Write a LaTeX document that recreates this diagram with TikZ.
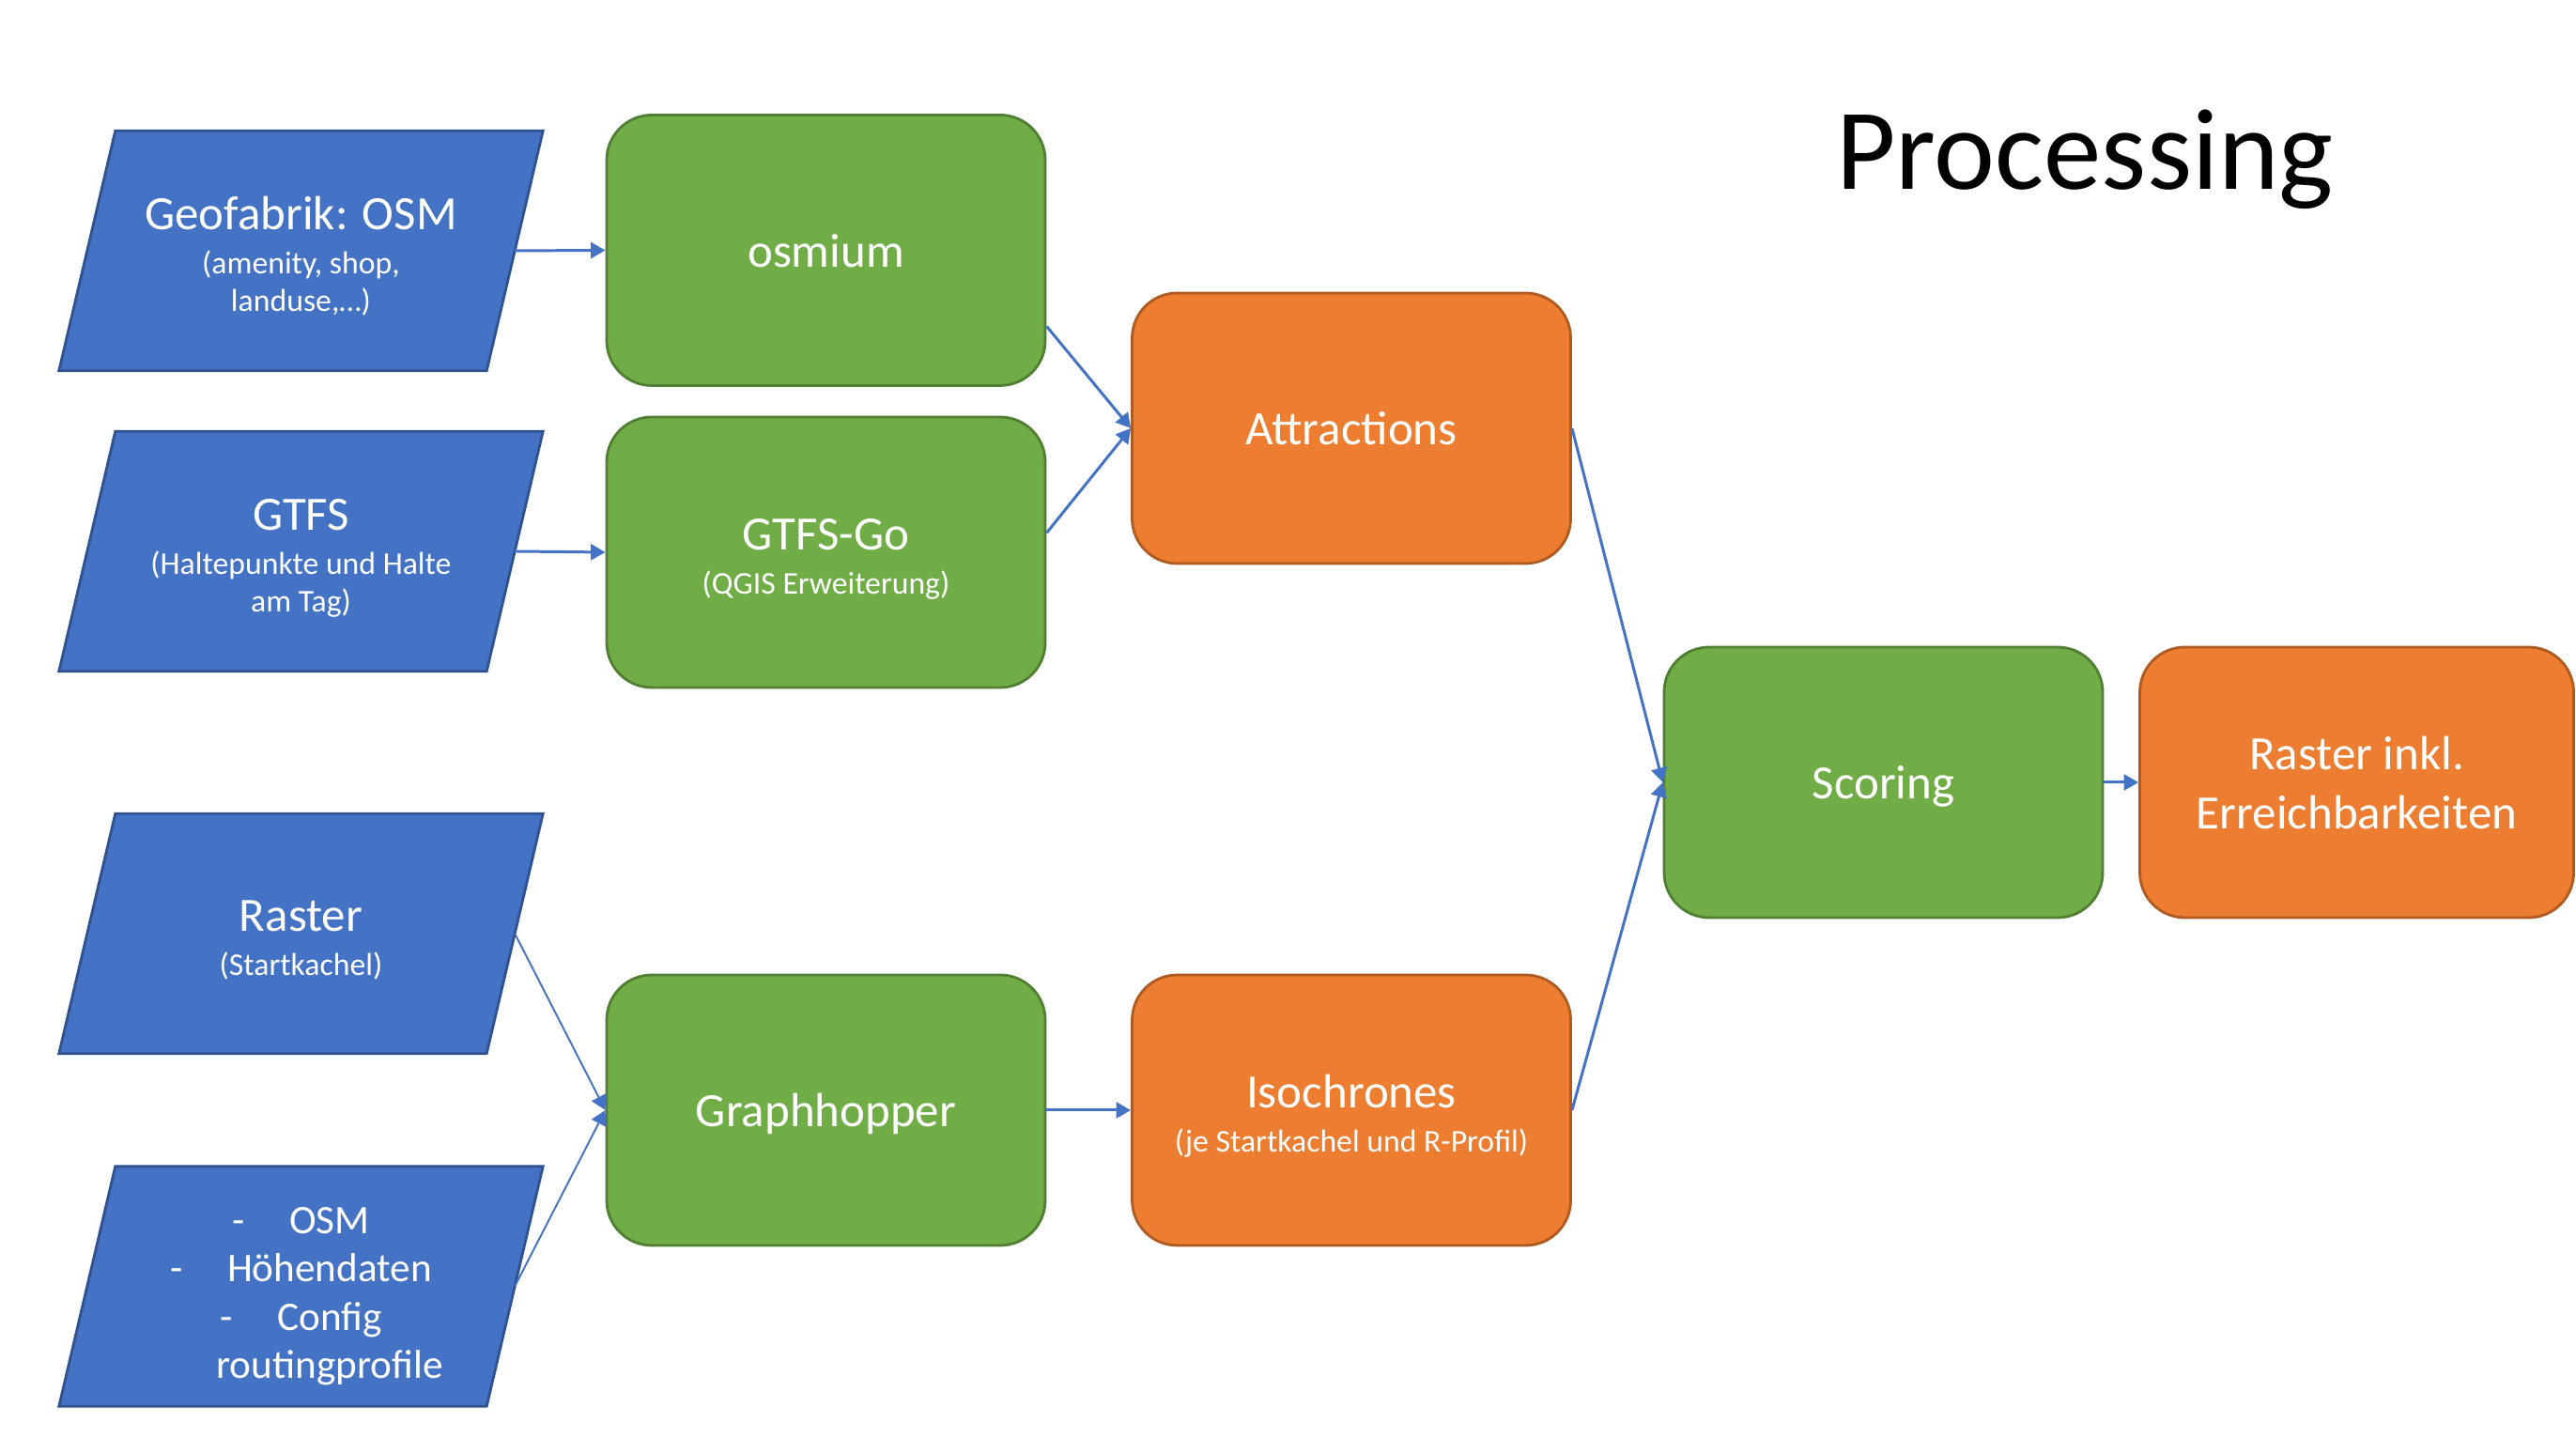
\documentclass[tikz,border=0pt]{standalone}
\usepackage{fontspec}
\setmainfont{Carlito}
\usetikzlibrary{shapes,arrows.meta,positioning,calc,backgrounds}

\definecolor{inblue}{HTML}{4472C4}
\definecolor{inbluedraw}{HTML}{2F528F}
\definecolor{procgreen}{HTML}{70AD47}
\definecolor{procgreendraw}{HTML}{507E32}
\definecolor{outorange}{HTML}{ED7D31}
\definecolor{outorangedraw}{HTML}{AE5A21}

\newcommand{\subtxt}[1]{{\fontsize{9.6}{11.5}\selectfont #1}}
\newcommand{\listtxt}[1]{{\fontsize{12.3}{11.5}\selectfont #1}}
\newcommand{\firststrut}{\rule{0pt}{15pt}}

\begin{document}
\begin{tikzpicture}[
    boxtext/.style={text=white, align=center, font=\fontsize{14.5}{11.5}\selectfont,
                    execute at begin node={\rule{0pt}{13.2pt}},
                    execute at end node={\rule[-3pt]{0pt}{3pt}}},
    datain/.style={rectangle, boxtext, minimum width=4.54cm, minimum height=2.54cm},
    datashape/.style={draw=inbluedraw, fill=inblue, line width=0.8pt},
    proc/.style={rectangle, boxtext, rounded corners=0.48cm, draw=procgreendraw, fill=procgreen,
                 line width=0.8pt, minimum width=4.67cm, minimum height=2.88cm},
    result/.style={proc, draw=outorangedraw, fill=outorange},
    arrow/.style={-{Triangle[length=4.4pt,width=4.8pt]}, draw=inblue, line width=0.85pt},
    thinarrow/.style={arrow, line width=0.55pt},
    title/.style={font=\fontsize{35}{42}\selectfont}
]
\useasboundingbox (0,0) rectangle (27.43,15.31);

% Title
\node[title, anchor=base] (title) at (22.2, 13.29) {Processing};

% Input data
\node[datain] (geo) at (3.205, 12.64) {\firststrut Geofabrik: OSM\\[2pt]\subtxt{(amenity, shop,}\\\subtxt{landuse,…)}};
\node[datain] (gtfs) at (3.205, 9.44) {\firststrut GTFS\\[2pt]\subtxt{(Haltepunkte und Halte}\\\subtxt{am Tag)}};
\node[datain] (raster) at (3.205, 5.37) {\firststrut Raster\\[2pt]\subtxt{(Startkachel)}};
\node[datain] (osmlist) at (3.205, 1.615) {%
    \firststrut\listtxt{-\hspace{13.6pt}OSM}\\[3.1pt]
    \listtxt{-\hspace{13.6pt}Höhendaten}\\[3.1pt]
    \listtxt{-\hspace{13.6pt}Config}\\[3.1pt]
    \listtxt{\hspace*{17.4pt}routingprofile}};

% slanted input shapes behind the texts
\begin{scope}[on background layer]
\foreach \n in {geo,gtfs,raster,osmlist}
    \draw[datashape] ($(\n.north west)+(0.3,0)$) -- ($(\n.north east)+(0.3,0)$)
        -- ($(\n.south east)-(0.3,0)$) -- ($(\n.south west)-(0.3,0)$) -- cycle;
\end{scope}

% Tools
\node[proc] (osmium) at (8.795, 12.645) {osmium};
\node[proc] (gtfsgo) at (8.795, 9.43) {\firststrut GTFS-Go\\[2pt]\subtxt{(QGIS Erweiterung)}};
\node[proc] (graphhopper) at (8.795, 3.49) {Graphhopper};

% Intermediate results
\node[result] (attractions) at (14.39, 10.75) {Attractions};
\node[result] (isochrones) at (14.39, 3.49) {\firststrut Isochrones\\[2pt]\subtxt{(je Startkachel und R-Profil)}};

% Scoring and output
\node[proc] (scoring) at (20.055, 6.98) {Scoring};
\node[result, minimum width=4.62cm] (output) at (25.095, 6.98)
    {\rule{0pt}{13.2pt}Raster inkl.\\[6.4pt]Erreichbarkeiten};

% Connectors
\draw[arrow] (geo.east) -- (osmium.west);
\draw[arrow] (gtfs.east) -- (gtfsgo.west);
\draw[arrow] (osmium.-19) -- (attractions.west);
\draw[arrow] (gtfsgo.5) -- (attractions.west);
\draw[thinarrow] (raster.east) -- (graphhopper.west);
\draw[thinarrow] (osmlist.east) -- (graphhopper.west);
\draw[arrow] (graphhopper.east) -- (isochrones.west);
\draw[arrow] (attractions.east) -- (scoring.west);
\draw[arrow] (isochrones.east) -- (scoring.west);
\draw[arrow] (scoring.east) -- (output.west);

\end{tikzpicture}
\end{document}
